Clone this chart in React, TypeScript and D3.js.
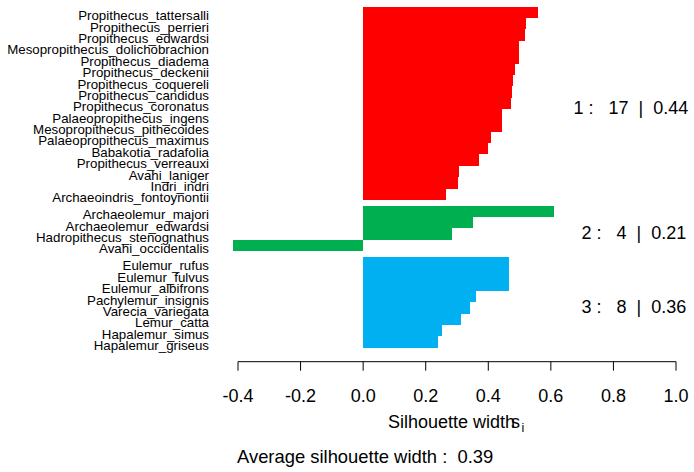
import React, { useEffect, useRef } from "react";
import * as d3 from "d3";

// ---- data (top to bottom) ----
const cluster1Names = [
  "Propithecus_tattersalli",
  "Propithecus_perrieri",
  "Propithecus_edwardsi",
  "Mesopropithecus_dolichobrachion",
  "Propithecus_diadema",
  "Propithecus_deckenii",
  "Propithecus_coquereli",
  "Propithecus_candidus",
  "Propithecus_coronatus",
  "Palaeopropithecus_ingens",
  "Mesopropithecus_pithecoides",
  "Palaeopropithecus_maximus",
  "Babakotia_radafolia",
  "Propithecus_verreauxi",
  "Avahi_laniger",
  "Indri_indri",
  "Archaeoindris_fontoynontii",
];
const cluster1Widths = [
  0.559, 0.521, 0.518, 0.499, 0.497, 0.486, 0.479, 0.477, 0.473, 0.444, 0.443,
  0.409, 0.4, 0.371, 0.307, 0.304, 0.265,
];
const cluster2Names = [
  "Archaeolemur_majori",
  "Archaeolemur_edwardsi",
  "Hadropithecus_stenognathus",
  "Avahi_occidentalis",
];
const cluster2Widths = [0.61, 0.352, 0.284, -0.416];
const cluster3Names = [
  "Eulemur_rufus",
  "Eulemur_fulvus",
  "Eulemur_albifrons",
  "Pachylemur_insignis",
  "Varecia_variegata",
  "Lemur_catta",
  "Hapalemur_simus",
  "Hapalemur_griseus",
];
const cluster3Widths = [0.467, 0.466, 0.465, 0.361, 0.342, 0.313, 0.252, 0.24];
const clusterColors = ["#FF0000", "#00B050", "#00B0F0"];
const xTicks = [-0.4, -0.2, 0.0, 0.2, 0.4, 0.6, 0.8, 1.0];

const W = 694;
const H = 472;
const FONT = "'Liberation Sans', Arial, Helvetica, sans-serif";
const BIG = 18;
const SMALL = 13.3;

export default function App() {
  const ref = useRef<SVGSVGElement | null>(null);

  useEffect(() => {
    const svg = d3.select(ref.current);
    svg.selectAll("*").remove();

    const clusters = [
      { names: cluster1Names, widths: cluster1Widths },
      { names: cluster2Names, widths: cluster2Widths },
      { names: cluster3Names, widths: cluster3Widths },
    ];
    type Row = { name: string; s: number; c: number; u: number };
    const rows: Row[] = [];
    let idx = 0;
    clusters.forEach((cl, c) => {
      cl.names.forEach((name, i) => {
        rows.push({ name, s: cl.widths[i], c, u: idx + 0.5 * c });
        idx++;
      });
    });
    const totalUnits = idx + 0.5 * (clusters.length - 1);

    const x = d3.scaleLinear().domain([-0.4, 1.0]).range([238, 676]);
    const y = d3.scaleLinear().domain([0, totalUnits]).range([6.7, 347.7]);
    const bh = y(1) - y(0);

    const g = svg.append("g").attr("font-family", FONT);

    // bars
    g.selectAll("rect.bar")
      .data(rows)
      .enter()
      .append("rect")
      .attr("x", (d) => Math.min(x(0), x(d.s)))
      .attr("width", (d) => Math.abs(x(d.s) - x(0)))
      .attr("y", (d) => y(d.u))
      .attr("height", bh)
      .attr("fill", (d) => clusterColors[d.c])
      .attr("shape-rendering", "crispEdges");

    // names
    g.selectAll("text.name")
      .data(rows)
      .enter()
      .append("text")
      .attr("x", 209)
      .attr("y", (d) => y(d.u) + bh / 2 + 8)
      .attr("text-anchor", "end")
      .attr("font-size", SMALL)
      .attr("fill", "#000")
      .text((d) => d.name);

    // cluster stats (anchored at 80% of the text width, like R's adj = 0.8)
    clusters.forEach((cl, c) => {
      const cr = rows.filter((r) => r.c === c);
      const yc = (y(cr[0].u) + y(cr[cr.length - 1].u + 1)) / 2;
      const avg = d3.mean(cl.widths) as number;
      const t = g
        .append("text")
        .attr("xml:space", "preserve")
        .style("white-space", "pre")
        .attr("font-size", BIG)
        .attr("y", yc + 4.3 + 6.4)
        .attr("fill", "#000")
        .text(`${c + 1} :   ${cl.names.length}  |  ${avg.toFixed(2)}`);
      const w = (t.node() as SVGTextElement).getComputedTextLength();
      t.attr("x", x(0.966) - 0.8 * w);
    });

    // axis
    const ay = 361.7;
    g.append("line")
      .attr("x1", x(xTicks[0]))
      .attr("x2", x(xTicks[xTicks.length - 1]))
      .attr("y1", ay)
      .attr("y2", ay)
      .attr("stroke", "#000")
      .attr("stroke-width", 1);
    g.selectAll("line.tick")
      .data(xTicks)
      .enter()
      .append("line")
      .attr("x1", (d) => x(d))
      .attr("x2", (d) => x(d))
      .attr("y1", ay)
      .attr("y2", ay + 9)
      .attr("stroke", "#000")
      .attr("stroke-width", 1);
    g.selectAll("text.tick")
      .data(xTicks)
      .enter()
      .append("text")
      .attr("x", (d) => x(d))
      .attr("y", 401.5)
      .attr("text-anchor", "middle")
      .attr("font-size", BIG)
      .attr("fill", "#000")
      .text((d) => d3.format(".1f")(d).replace("−", "-"));

    // axis title with overlapping s_i
    g.append("text")
      .attr("x", 388)
      .attr("y", 428)
      .attr("font-size", BIG)
      .attr("fill", "#000")
      .text("Silhouette width");
    g.append("text")
      .attr("x", 511)
      .attr("y", 428)
      .attr("font-size", BIG)
      .attr("fill", "#000")
      .text("s");
    g.append("text")
      .attr("x", 521.5)
      .attr("y", 432)
      .attr("font-size", 12.5)
      .attr("fill", "#000")
      .text("i");

    // subtitle
    const all = [...cluster1Widths, ...cluster2Widths, ...cluster3Widths];
    g.append("text")
      .attr("xml:space", "preserve")
      .style("white-space", "pre")
      .attr("x", 237)
      .attr("y", 463)
      .attr("font-size", 18.4)
      .attr("fill", "#000")
      .text(`Average silhouette width :  ${(d3.mean(all) as number).toFixed(2)}`);
  }, []);

  return (
    <svg
      ref={ref}
      width={W}
      height={H}
      viewBox={`0 0 ${W} ${H}`}
      style={{ position: "absolute", left: 0, top: 0, background: "#fff" }}
    />
  );
}
